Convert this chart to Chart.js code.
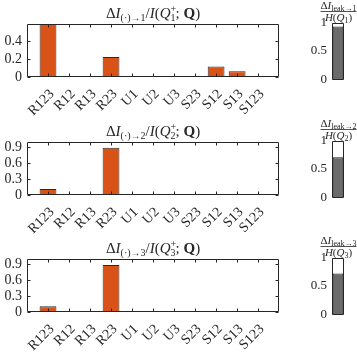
<!DOCTYPE html>
<html>
<head>
<meta charset="utf-8">
<script src="https://cdn.jsdelivr.net/npm/chart.js@4.4.0/dist/chart.umd.min.js"></script>
<style>
  html, body { margin: 0; padding: 0; background: #fff; }
  #figura { position: relative; width: 357px; height: 356px; overflow: hidden; }
  canvas { position: absolute; }
</style>
</head>
<body>
<div id="figura">
  <canvas id="flow1" width="300" height="118" style="left:0;top:0"></canvas>
  <canvas id="flow2" width="300" height="118" style="left:0;top:118px"></canvas>
  <canvas id="flow3" width="300" height="118" style="left:0;top:235px"></canvas>
  <canvas id="leak1" width="57" height="118" style="left:300px;top:0"></canvas>
  <canvas id="leak2" width="57" height="118" style="left:300px;top:118px"></canvas>
  <canvas id="leak3" width="57" height="118" style="left:300px;top:235px"></canvas>
</div>
<script>
// === Data ===
const categories = ["R123", "R12", "R13", "R23", "U1", "U2", "U3", "S23", "S12", "S13", "S123"];
const flowTo1 = [0.59, 0, 0, 0.222, 0.005, 0, 0, 0, 0.117, 0.064, 0];
const flowTo2 = [0.115, 0, 0, 0.89, 0, 0, 0, 0, 0, 0, 0];
const flowTo3 = [0.11, 0, 0, 0.885, 0, 0, 0, 0, 0, 0, 0];
const yMaxFlow = [0.59, 1, 1];
const yStepFlow = [0.2, 0.3, 0.3];
const leakShare = [0.93, 0.705, 0.72];
const leakTicks = [0, 0.5, 1];

// === Style ===
const serif = '"Liberation Serif", "Times New Roman", serif';
const ink = "#262626";
const orange = "#D95319";
const grey = "#6b6b6b";

Chart.defaults.font.family = serif;
Chart.defaults.font.size = 14;
Chart.defaults.color = ink;
Chart.defaults.animation = false;

// Text with sub/superscripts: [text, size, style, dy, noAdvance]
function fontOf(p) {
  return (p[2] ? p[2] + " " : "") + p[1] + "px " + serif;
}
function richWidth(ctx, parts) {
  let w = 0;
  parts.forEach(p => {
    ctx.font = fontOf(p);
    p.w = ctx.measureText(p[0]).width;
    if (!p[4]) w += p.w;
  });
  return w;
}
function drawRich(ctx, cx, y, parts) {
  let x = cx - richWidth(ctx, parts) / 2;
  ctx.textAlign = "left";
  ctx.textBaseline = "alphabetic";
  parts.forEach(p => {
    ctx.font = fontOf(p);
    ctx.fillText(p[0], x, y + (p[3] || 0));
    if (!p[4]) x += p.w;
  });
}

// Box plus inward ticks (MATLAB look)
function marco(tickLen, xTicks) {
  return {
    id: "marco",
    afterDatasetsDraw(chart) {
      const { ctx, chartArea: a } = chart;
      const l = Math.round(a.left) + 0.5, r = Math.round(a.right) - 0.5;
      const t = Math.round(a.top) + 0.5, b = Math.round(a.bottom) - 0.5;
      ctx.save();
      ctx.strokeStyle = ink;
      ctx.lineWidth = 1;
      ctx.beginPath();
      if (tickLen) {
        chart.scales.y.ticks.forEach(tk => {
          const py = Math.round(chart.scales.y.getPixelForValue(tk.value)) + 0.5;
          ctx.moveTo(l, py); ctx.lineTo(l + tickLen, py);
          ctx.moveTo(r, py); ctx.lineTo(r - tickLen, py);
        });
      }
      if (xTicks) {
        chart.scales.x.ticks.forEach(tk => {
          if (tk.value < 1 || tk.value > categories.length) return;
          const px = Math.round(chart.scales.x.getPixelForValue(tk.value)) + 0.5;
          ctx.moveTo(px, b); ctx.lineTo(px, b - tickLen);
          ctx.moveTo(px, t); ctx.lineTo(px, t + tickLen);
        });
      }
      ctx.rect(l, t, r - l, b - t);
      ctx.stroke();
      ctx.restore();
    }
  };
}

// === Flow charts (left column) ===
function flowChart(id, values, k) {
  const titulo = {
    id: "titulo",
    afterDraw(chart) {
      const { ctx, chartArea: a } = chart;
      ctx.save();
      ctx.fillStyle = ink;
      drawRich(ctx, (a.left + a.right) / 2, a.top - 6, [
        ["\u0394", 15, "", 0], ["I", 15, "italic", 0], ["(\u00b7)\u2192" + k, 10, "", 3],
        ["/", 15, "", 0], ["I", 15, "italic", 0], ["(", 15, "", 0], ["Q", 15, "italic", 0],
        ["+", 10, "", -6, true], [String(k), 10, "", 3], ["; ", 15, "", 0],
        ["Q", 15, "bold", 0], [")", 15, "", 0]
      ]);
      ctx.restore();
    }
  };
  return new Chart(document.getElementById(id), {
    type: "bar",
    data: {
      datasets: [{
        data: values.map((v, i) => ({ x: i + 1, y: v })),
        backgroundColor: orange,
        borderColor: "#2a2a2a",
        borderWidth: 1,
        barPercentage: 0.8,
        categoryPercentage: 1
      }]
    },
    options: {
      responsive: false,
      layout: { padding: { top: 24, right: 11.5, left: 0, bottom: 0 } },
      plugins: { legend: { display: false }, tooltip: { enabled: false } },
      scales: {
        x: {
          type: "linear",
          min: 0,
          max: categories.length + 1,
          offset: false,
          grid: { display: false, drawTicks: false },
          border: { display: false },
          ticks: {
            stepSize: 1,
            autoSkip: false,
            minRotation: 45,
            maxRotation: 45,
            padding: 9,
            labelOffset: 4,
            color: ink,
            callback: v => categories[v - 1] || ""
          },
          afterFit: s => { s.height = 41; }
        },
        y: {
          min: 0,
          max: yMaxFlow[k - 1],
          grid: { display: false, drawTicks: false },
          border: { display: false },
          ticks: {
            stepSize: yStepFlow[k - 1],
            includeBounds: false,
            autoSkip: false,
            padding: 5,
            color: ink,
            callback: v => String(Math.round(v * 10) / 10)
          },
          afterFit: s => { s.width = 27; }
        }
      }
    },
    plugins: [marco(3, true), titulo]
  });
}

// === Leak share (right column) ===
function leakChart(id, share, k) {
  const fraccion = {
    id: "fraccion",
    afterDraw(chart) {
      const { ctx, chartArea: a } = chart;
      const cx = (a.left + a.right) / 2 + 0.5;
      const num = [["\u0394", 11, "", 0], ["I", 11, "italic", 0], ["leak\u2192" + k, 8, "", 2]];
      const den = [["H", 11, "italic", 0], ["(", 11, "", 0], ["Q", 11, "italic", 0], [String(k), 8, "", 2], [")", 11, "", 0]];
      const w = Math.max(richWidth(ctx, num), richWidth(ctx, den));
      const ly = Math.round(a.top - 12) + 0.5;
      ctx.save();
      ctx.fillStyle = ink;
      ctx.strokeStyle = ink;
      drawRich(ctx, cx, ly - 3, num);
      drawRich(ctx, cx, ly + 9, den);
      ctx.beginPath();
      ctx.moveTo(cx - w / 2, ly);
      ctx.lineTo(cx + w / 2, ly);
      ctx.lineWidth = 0.8;
      ctx.stroke();
      ctx.restore();
    }
  };
  return new Chart(document.getElementById(id), {
    type: "bar",
    data: {
      labels: [""],
      datasets: [{
        data: [share],
        backgroundColor: grey,
        borderColor: "#1e1e1e",
        borderWidth: 1,
        barPercentage: 0.88,
        categoryPercentage: 1
      }]
    },
    options: {
      responsive: false,
      layout: { padding: { top: 22.5, right: 13, left: 0, bottom: 38.5 } },
      plugins: { legend: { display: false }, tooltip: { enabled: false } },
      scales: {
        x: { display: false },
        y: {
          min: 0,
          max: 1,
          grid: { display: false, drawTicks: false },
          border: { display: false },
          afterBuildTicks: s => { s.ticks = leakTicks.map(v => ({ value: v })); },
          ticks: { padding: 5, autoSkip: false, color: ink, font: { size: 13 }, callback: v => String(v) },
          afterFit: s => { s.width = 32; }
        }
      }
    },
    plugins: [marco(0, false), fraccion]
  });
}

flowChart("flow1", flowTo1, 1);
flowChart("flow2", flowTo2, 2);
flowChart("flow3", flowTo3, 3);
leakChart("leak1", leakShare[0], 1);
leakChart("leak2", leakShare[1], 2);
leakChart("leak3", leakShare[2], 3);
</script>
</body>
</html>
